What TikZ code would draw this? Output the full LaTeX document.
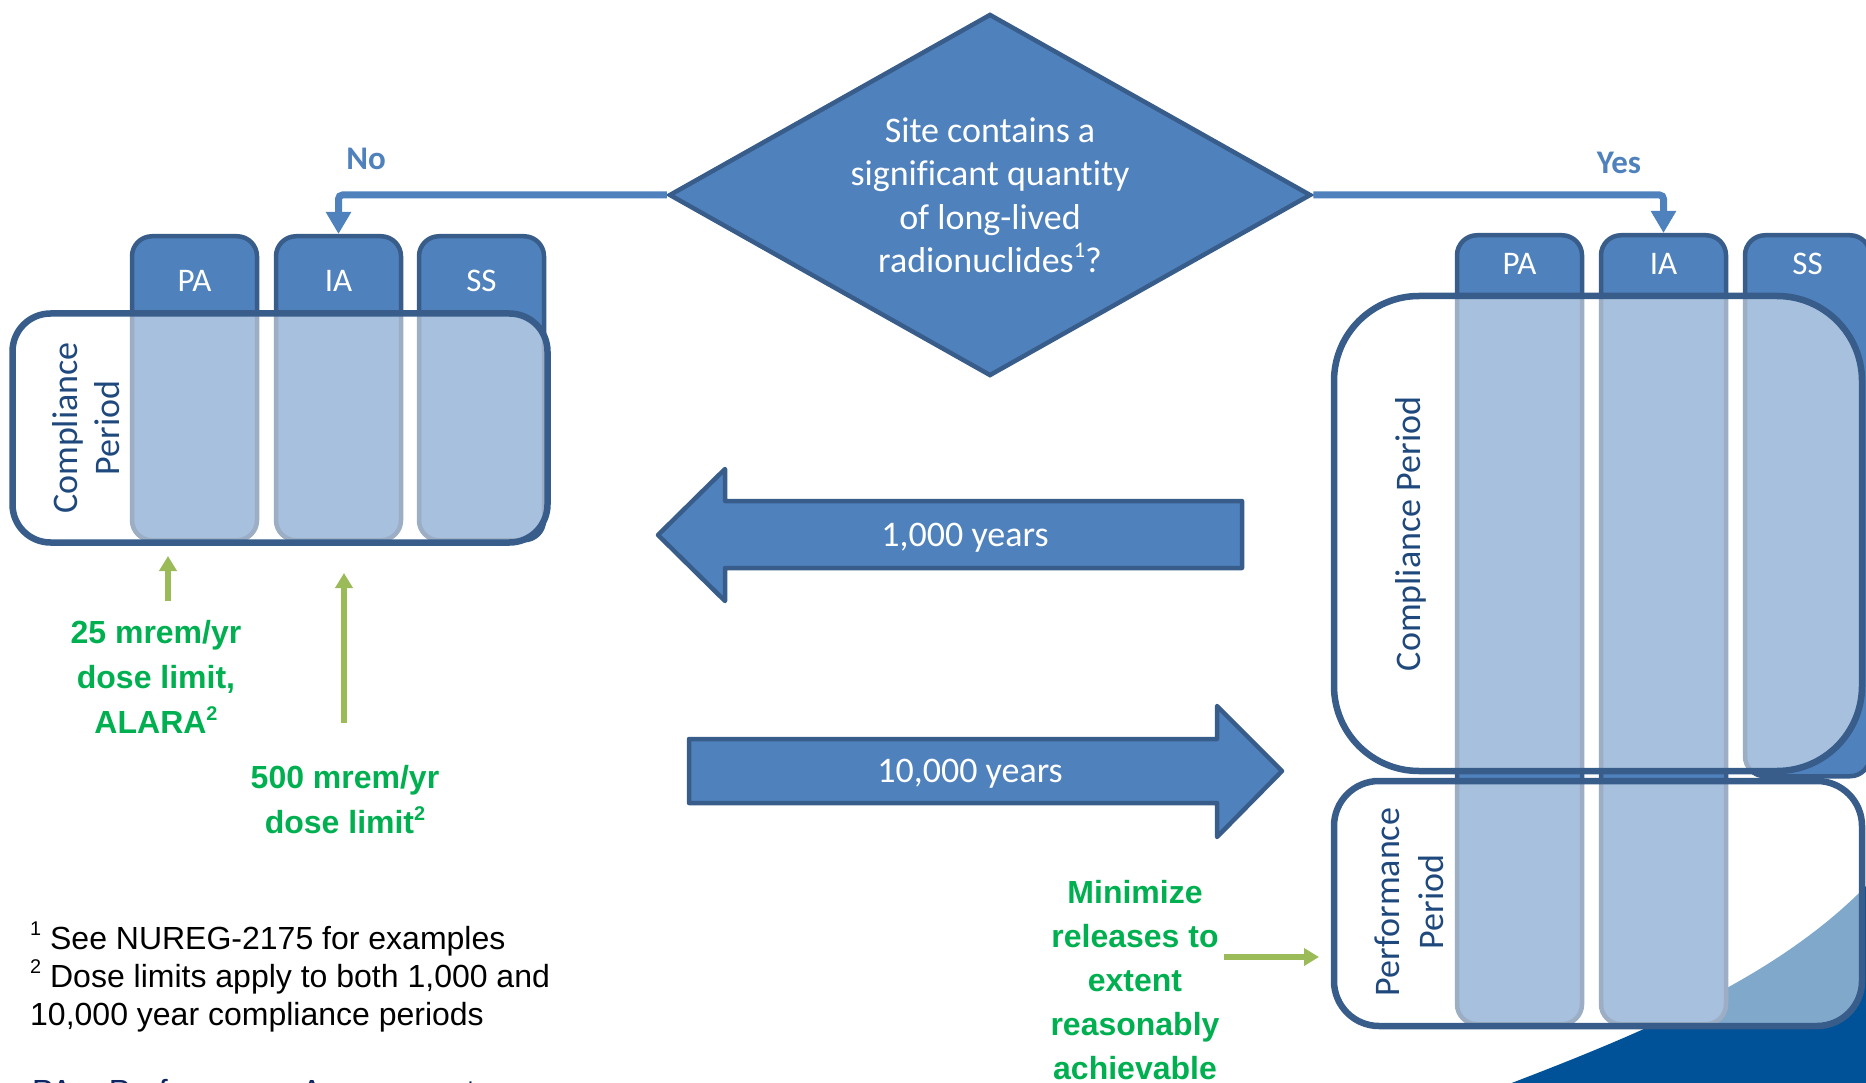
\documentclass[tikz,border=0pt]{standalone}
\usepackage{fontspec}
\setmainfont[Ligatures=NoCommon]{Carlito}
\newfontfamily\arialf{Liberation Sans}
\usetikzlibrary{shapes.geometric,arrows.meta}

\definecolor{midblue}{RGB}{79,129,189}
\definecolor{dkblue}{RGB}{56,93,138}
\definecolor{navytext}{RGB}{31,73,125}
\definecolor{limegreen}{RGB}{0,176,80}
\definecolor{olivegreen}{RGB}{155,187,89}
\definecolor{wavecol}{RGB}{0,82,152}
\definecolor{footnavy}{RGB}{16,37,99}

% raised, reduced footnote mark that follows the current font size
\newcommand\upmark[1]{\raisebox{0.42em}{\scalebox{0.62}{#1}}}

\begin{document}
\begin{tikzpicture}[x=1pt,y=-1pt,
  lanebox/.style={draw=dkblue, fill=midblue, line width=4.5pt, rounded corners=20pt,
    minimum width=125pt, inner sep=0pt, anchor=north},
  periodbox/.style={draw=dkblue, line width=6.5pt, fill=white, fill opacity=0.5, inner sep=0pt},
  tabtext/.style={text=white, font=\fontsize{33}{39}\selectfont, inner sep=0pt},
  periodtext/.style={text=navytext, rotate=90, align=center, inner sep=0pt},
  bigarrow/.style={fill=midblue, draw=dkblue, line width=4.5pt, line join=round},
  yearstext/.style={text=white, font=\fontsize{36}{43}\selectfont, inner sep=0pt},
  flowline/.style={draw=midblue, line width=7pt, rounded corners=4pt,
    -{Triangle[width=24pt,length=22pt]}},
  branchlabel/.style={text=midblue, font=\bfseries\fontsize{33}{40}\selectfont, inner sep=0pt},
  limittext/.style={text=limegreen, align=center, inner sep=0pt},
  limitarrow/.style={draw=olivegreen, line width=5.5pt, -{Triangle[width=17pt,length=15pt]}},
  notetext/.style={font=\arialf\fontsize{32}{38}\selectfont, align=left, inner sep=0pt},
]
\useasboundingbox (0,0) rectangle (1866,1083);
\clip (0,0) rectangle (1866,1083);

% background swoosh in the lower right corner
\fill[wavecol] (1509,1084) .. controls (1650,1030) and (1780,975) .. (1868,884)
  -- (1868,1084) -- cycle;

% assessment lanes: PA, IA, SS (left: short period, right: long period)
\node[lanebox, minimum height=304pt] (lpa) at (194.5,234) {};
\node[lanebox, minimum height=304pt] (lia) at (338.5,234) {};
\node[lanebox, minimum height=304pt] (lss) at (481.5,234) {};
\node[lanebox, minimum height=789pt] (rpa) at (1519.5,233) {};
\node[lanebox, minimum height=789pt] (ria) at (1663.5,233) {};
\node[lanebox, minimum height=541pt] (rss) at (1807.5,233) {};

\node[tabtext] (lpaT) at (194.5,281) {PA};
\node[tabtext] (liaT) at (338.5,281) {IA};
\node[tabtext] (lssT) at (481.5,281) {SS};
\node[tabtext] (rpaT) at (1519.5,264) {PA};
\node[tabtext] (riaT) at (1663.5,264) {IA};
\node[tabtext] (rssT) at (1807.5,264) {SS};

% translucent period frames laid over the lanes
\node[periodbox, minimum width=535pt, minimum height=229pt, rounded corners=38pt] (lcomp) at (280,428) {};
\node[periodbox, minimum width=528pt, minimum height=475pt, rounded corners=85pt] (rcomp) at (1598,533.5) {};
\node[periodbox, minimum width=528pt, minimum height=245pt, rounded corners=45pt] (rperf) at (1598,903.5) {};

\node[periodtext, font=\fontsize{36}{42}\selectfont] (lcompT) at (86,428) {Compliance\\Period};
\node[periodtext, font=\fontsize{36}{44}\selectfont] (rcompT) at (1411,534) {Compliance Period};
\node[periodtext, font=\fontsize{36}{44}\selectfont] (rperfT) at (1409,902) {Performance\\Period};

% decision
\node[diamond, aspect=1.77, draw=dkblue, fill=midblue, line width=4.5pt,
  minimum width=642pt, minimum height=362pt, inner sep=0pt, text=white, align=center,
  font=\fontsize{36}{43.5}\selectfont] (q) at (990,195)
  {Site contains a\\significant quantity\\of long-lived\\radionuclides\upmark{1}?};

\draw[flowline] (q.west) -| (lia.north);
\draw[flowline] (q.east) -| (ria.north);
\node[branchlabel] (no) at (366,159) {No};
\node[branchlabel] (yes) at (1619,163) {Yes};

% period length arrows
\draw[bigarrow] (658,535) -- (725,469) -- (725,501) -- (1242,501) -- (1242,568)
  -- (725,568) -- (725,601) -- cycle;
\node[yearstext] (k1) at (965,538) {1,000 years};
\draw[bigarrow] (689,739) -- (1217,739) -- (1217,706) -- (1282,771) -- (1217,837)
  -- (1217,803) -- (689,803) -- cycle;
\node[yearstext] (k10) at (970,774) {10,000 years};

% dose limits and performance objective
\node[limittext, font=\arialf\bfseries\fontsize{32}{45}\selectfont] (l25) at (156,677)
  {25 mrem/yr\\dose limit,\\ALARA\upmark{2}};
\node[limittext, font=\arialf\bfseries\fontsize{32}{45}\selectfont] (l500) at (345,800)
  {500 mrem/yr\\dose limit\upmark{2}};
\node[limittext, font=\arialf\bfseries\fontsize{32}{44}\selectfont] (lmin) at (1135,980)
  {Minimize\\releases to\\extent\\reasonably\\achievable};

\coordinate (g1s) at (168,601);  \coordinate (g1e) at (168,556);
\coordinate (g2s) at (344,723);  \coordinate (g2e) at (344,573);
\coordinate (g3s) at (1224,957); \coordinate (g3e) at (1319,957);
\draw[limitarrow] (g1s) -- (g1e);
\draw[limitarrow] (g2s) -- (g2e);
\draw[limitarrow] (g3s) -- (g3e);

% footnotes
\node[notetext, anchor=west] (fn) at (30,977)
  {\upmark{1} See NUREG-2175 for examples\\\upmark{2} Dose limits apply to both 1,000 and\\10,000 year compliance periods};
\node[notetext, text=footnavy, anchor=base west] (pa) at (32,1102) {PA = Performance Assessment};
\end{tikzpicture}
\end{document}
